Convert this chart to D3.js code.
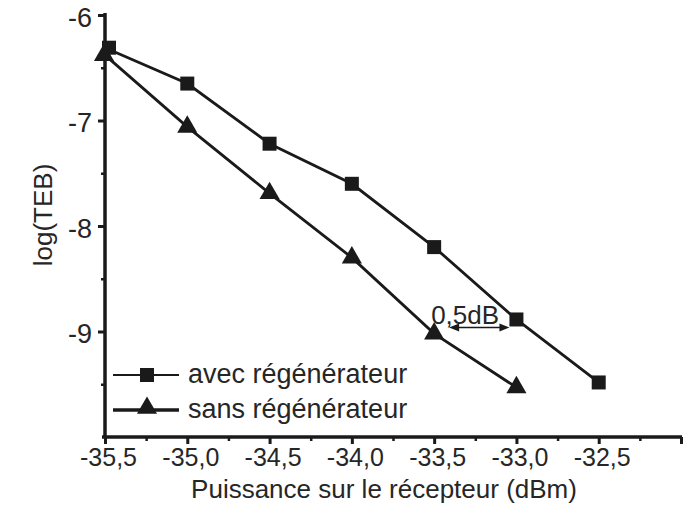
<!DOCTYPE html>
<html><head><meta charset="utf-8">
<script src="https://cdn.jsdelivr.net/npm/d3@7"></script>
<style>body{margin:0;background:#fff}text{font-family:"Liberation Sans",Arial,sans-serif;fill:#262626}</style>
</head><body>
<svg id="c" width="685" height="516"></svg>
<script>
const xValues = [-35.5, -35.0, -34.5, -34.0, -33.5, -33.0, -32.5];
const avec = [-6.31, -6.65, -7.22, -7.60, -8.20, -8.886, -9.483];
const sansX = [-35.5, -35.0, -34.5, -34.0, -33.5, -33.0];
const sans = [-6.38, -7.06, -7.69, -8.30, -9.02, -9.53];
const xTicks = [-35.5, -35.0, -34.5, -34.0, -33.5, -33.0, -32.5, -32.0];
const xTickLabels = ["-35,5", "-35,0", "-34,5", "-34,0", "-33,5", "-33,0", "-32,5", ""];
const yTicks = [-6, -7, -8, -9];
const yTickLabels = ["-6", "-7", "-8", "-9"];
const seriesNames = ["avec régénérateur", "sans régénérateur"];
const annotation = {text: "0,5dB", from: -33.5, to: -33.0, y: -8.99};

const svg = d3.select("#c");
const x = d3.scaleLinear().domain([-35.5, -32.0]).range([105, 681]);
const y = d3.scaleLinear().domain([-10, -6]).range([437, 15]);
const ink = "#1a1a1a";
const FONT = "Liberation Sans, Arial, sans-serif";

// x axis
const xAxis = d3.axisBottom(x).tickValues(xTicks).tickSize(7).tickPadding(3).tickFormat((d,i)=>xTickLabels[i]);
const gx = svg.append("g").attr("transform", `translate(0,${y(-10)})`).call(xAxis);
gx.select(".domain").attr("stroke", ink).attr("stroke-width", 3.5).attr("d", `M${x(-35.5)-3},0H${x(-32)+1}`);
gx.selectAll(".tick line").attr("stroke", ink).attr("stroke-width", 3);
gx.selectAll(".tick text").attr("font-size", 25).attr("font-family", FONT).attr("dx", 3).attr("dy", 0).attr("y", 29).style("fill", "#262626");
const xMinor = d3.range(-35.25, -32.0, 0.5);
svg.append("g").attr("transform", `translate(0,${y(-10)})`).call(d3.axisBottom(x).tickValues(xMinor).tickSize(4).tickFormat(""))
  .call(g=>{g.select(".domain").remove(); g.selectAll(".tick line").attr("stroke", ink).attr("stroke-width", 2.5);});

// y axis
const yAxis = d3.axisLeft(y).tickValues(yTicks).tickSize(7).tickFormat((d,i)=>yTickLabels[i]);
const gy = svg.append("g").attr("transform", `translate(${x(-35.5)},0)`).call(yAxis);
gy.select(".domain").attr("stroke", ink).attr("stroke-width", 3.5).attr("d", `M0,${y(-6)-2}V${y(-10)+1}`);
gy.selectAll(".tick line").attr("stroke", ink).attr("stroke-width", 3);
gy.selectAll(".tick text").attr("font-size", 27).attr("font-family", FONT).attr("x", -13).attr("dy", "0.42em").style("fill", "#262626");
const yMinor = [-6.5, -7.5, -8.5, -9.5];
svg.append("g").attr("transform", `translate(${x(-35.5)},0)`).call(d3.axisLeft(y).tickValues(yMinor).tickSize(4).tickFormat(""))
  .call(g=>{g.select(".domain").remove(); g.selectAll(".tick line").attr("stroke", ink).attr("stroke-width", 2.5);});

// titles
svg.append("text").attr("x", 384).attr("y", 498).attr("text-anchor", "middle").attr("font-size", 26).text("Puissance sur le récepteur (dBm)");
svg.append("text").attr("transform", `translate(52,215) rotate(-90)`).attr("text-anchor", "middle").attr("font-size", 26).text("log(TEB)");

// series
const line = d3.line().x(d=>x(d[0])).y(d=>y(d[1]));
const avecData = xValues.map((v,i)=>[v, avec[i]]);
const sansData = sansX.map((v,i)=>[v, sans[i]]);
const sqSize = 14*14, triSize = 175;

svg.append("path").datum(sansData).attr("d", line).attr("fill", "none").attr("stroke", ink).attr("stroke-width", 2.8);
svg.append("path").datum(avecData).attr("d", line).attr("fill", "none").attr("stroke", ink).attr("stroke-width", 2.8);
svg.selectAll(".tri").data(sansData).enter().append("path")
  .attr("transform", d=>`translate(${x(d[0])-(d[0]===-35.5?1:0)},${y(d[1])})`)
  .attr("d", d3.symbol().type(d3.symbolTriangle).size(triSize)()).attr("fill", ink);
svg.selectAll(".sq").data(avecData).enter().append("path")
  .attr("transform", d=>`translate(${x(d[0])+(d[0]===-35.5?4:0)},${y(d[1])})`)
  .attr("d", d3.symbol().type(d3.symbolSquare).size(sqSize)()).attr("fill", ink);

// annotation
const ay = y(annotation.y) - 3;
const ax1 = x(annotation.from)+15, ax2 = x(annotation.to)-7;
svg.append("line").attr("x1", ax1+4).attr("x2", ax2-4).attr("y1", ay).attr("y2", ay).attr("stroke", ink).attr("stroke-width", 1.6);
svg.append("path").attr("d", `M${ax1},${ay}l10,-4v8z`).attr("fill", ink);
svg.append("path").attr("d", `M${ax2},${ay}l-10,-4v8z`).attr("fill", ink);
svg.append("text").attr("x", x(annotation.from)-3).attr("y", ay-3).attr("font-size", 26).text(annotation.text);

// legend
const lg = svg.append("g");
const legY = [375, 410];
[0,1].forEach(i=>{
  lg.append("line").attr("x1", 113).attr("x2", 179).attr("y1", legY[i]).attr("y2", legY[i]).attr("stroke", ink).attr("stroke-width", i===0?2:3.5);
  lg.append("path").attr("transform", `translate(147,${legY[i]-(i===1?2:0)})`)
    .attr("d", d3.symbol().type(i===0?d3.symbolSquare:d3.symbolTriangle).size(i===0?sqSize:triSize)()).attr("fill", ink);
  lg.append("text").attr("x", 188).attr("y", legY[i]+8).attr("font-size", 27).text(seriesNames[i]);
});
</script>
</body></html>
